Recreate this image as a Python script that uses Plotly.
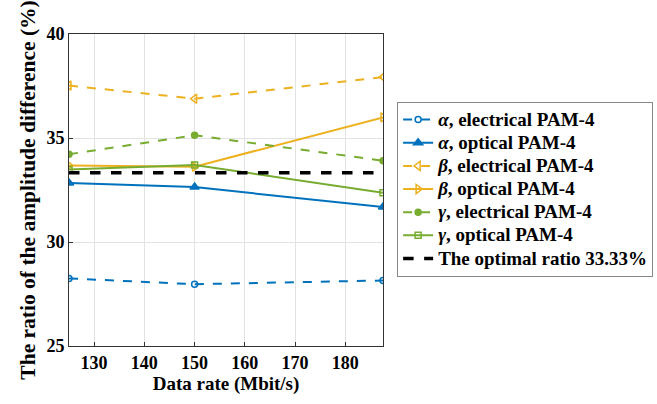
import plotly.graph_objects as go

rates = [125, 150, 187.5]
alpha_elec = [28.25, 27.97, 28.15]
alpha_opt = [32.84, 32.64, 31.68]
beta_elec = [37.52, 36.89, 37.93]
beta_opt = [33.68, 33.62, 35.99]
gamma_elec = [34.22, 35.13, 33.91]
gamma_opt = [33.49, 33.70, 32.37]
optimal = [33.33, 33.33, 33.33]

BLUE = "#0072BD"
YEL = "#EDB120"
GRN = "#77AC30"
FONT = "Liberation Serif"


def lbl(s):
    return '<span style="font-size:19px">' + s + '</span>'


series = [
    ("<i>α</i>, electrical PAM-4", alpha_elec, BLUE, "dash", "circle-open", 6),
    ("<i>α</i>, optical PAM-4", alpha_opt, BLUE, "solid", "triangle-up", 8),
    ("<i>β</i>, electrical PAM-4", beta_elec, YEL, "dash", "triangle-left-open", 8),
    ("<i>β</i>, optical PAM-4", beta_opt, YEL, "solid", "triangle-right-open", 8),
    ("<i>γ</i>, electrical PAM-4", gamma_elec, GRN, "dash", "circle", 6),
    ("<i>γ</i>, optical PAM-4", gamma_opt, GRN, "solid", "square-open", 6),
]

fig = go.Figure()
for name, ys, col, dash, sym, sz in series:
    fig.add_trace(go.Scatter(
        x=rates, y=ys, name=lbl(name), mode="lines+markers",
        line=dict(color=col, width=2, dash=dash),
        marker=dict(symbol=sym, size=sz, color=col, line=dict(color=col, width=1.5)),
    ))
fig.add_trace(go.Scatter(
    x=rates, y=optimal, name=lbl("The optimal ratio 33.33%"), mode="lines",
    line=dict(color="black", width=3.5, dash="dash"),
))

axis_common = dict(
    showgrid=True, gridcolor="#E3E3E3", gridwidth=1,
    showline=True, linecolor="#333333", linewidth=1, mirror=True,
    ticks="inside", ticklen=4, tickcolor="#333333",
    zeroline=False, automargin=False,
    tickfont=dict(family=FONT, size=18, color="black", weight="bold"),
)

fig.update_layout(
    width=657, height=404,
    margin=dict(l=69, r=274, t=34, b=58, autoexpand=False),
    paper_bgcolor="white", plot_bgcolor="white",
    xaxis=dict(range=[125, 187.5], tickvals=[130, 140, 150, 160, 170, 180],
               title=dict(text="Data rate (Mbit/s)", standoff=4,
                          font=dict(family=FONT, size=19, color="black", weight="bold")),
               **axis_common),
    yaxis=dict(range=[25, 40], tickvals=[25, 30, 35, 40],
               title=dict(text="The ratio of the amplitude difference (%)", standoff=4,
                          font=dict(family=FONT, size=21.5, color="black", weight="bold")),
               **axis_common),
    legend=dict(x=1.045, y=0.782, xanchor="left", yanchor="top",
                bgcolor="white", bordercolor="#888888", borderwidth=1,
                font=dict(family=FONT, size=15.5, color="black", weight="bold"),
                tracegroupgap=0, itemwidth=30),
    showlegend=True,
)

fig.write_html("out.html")
